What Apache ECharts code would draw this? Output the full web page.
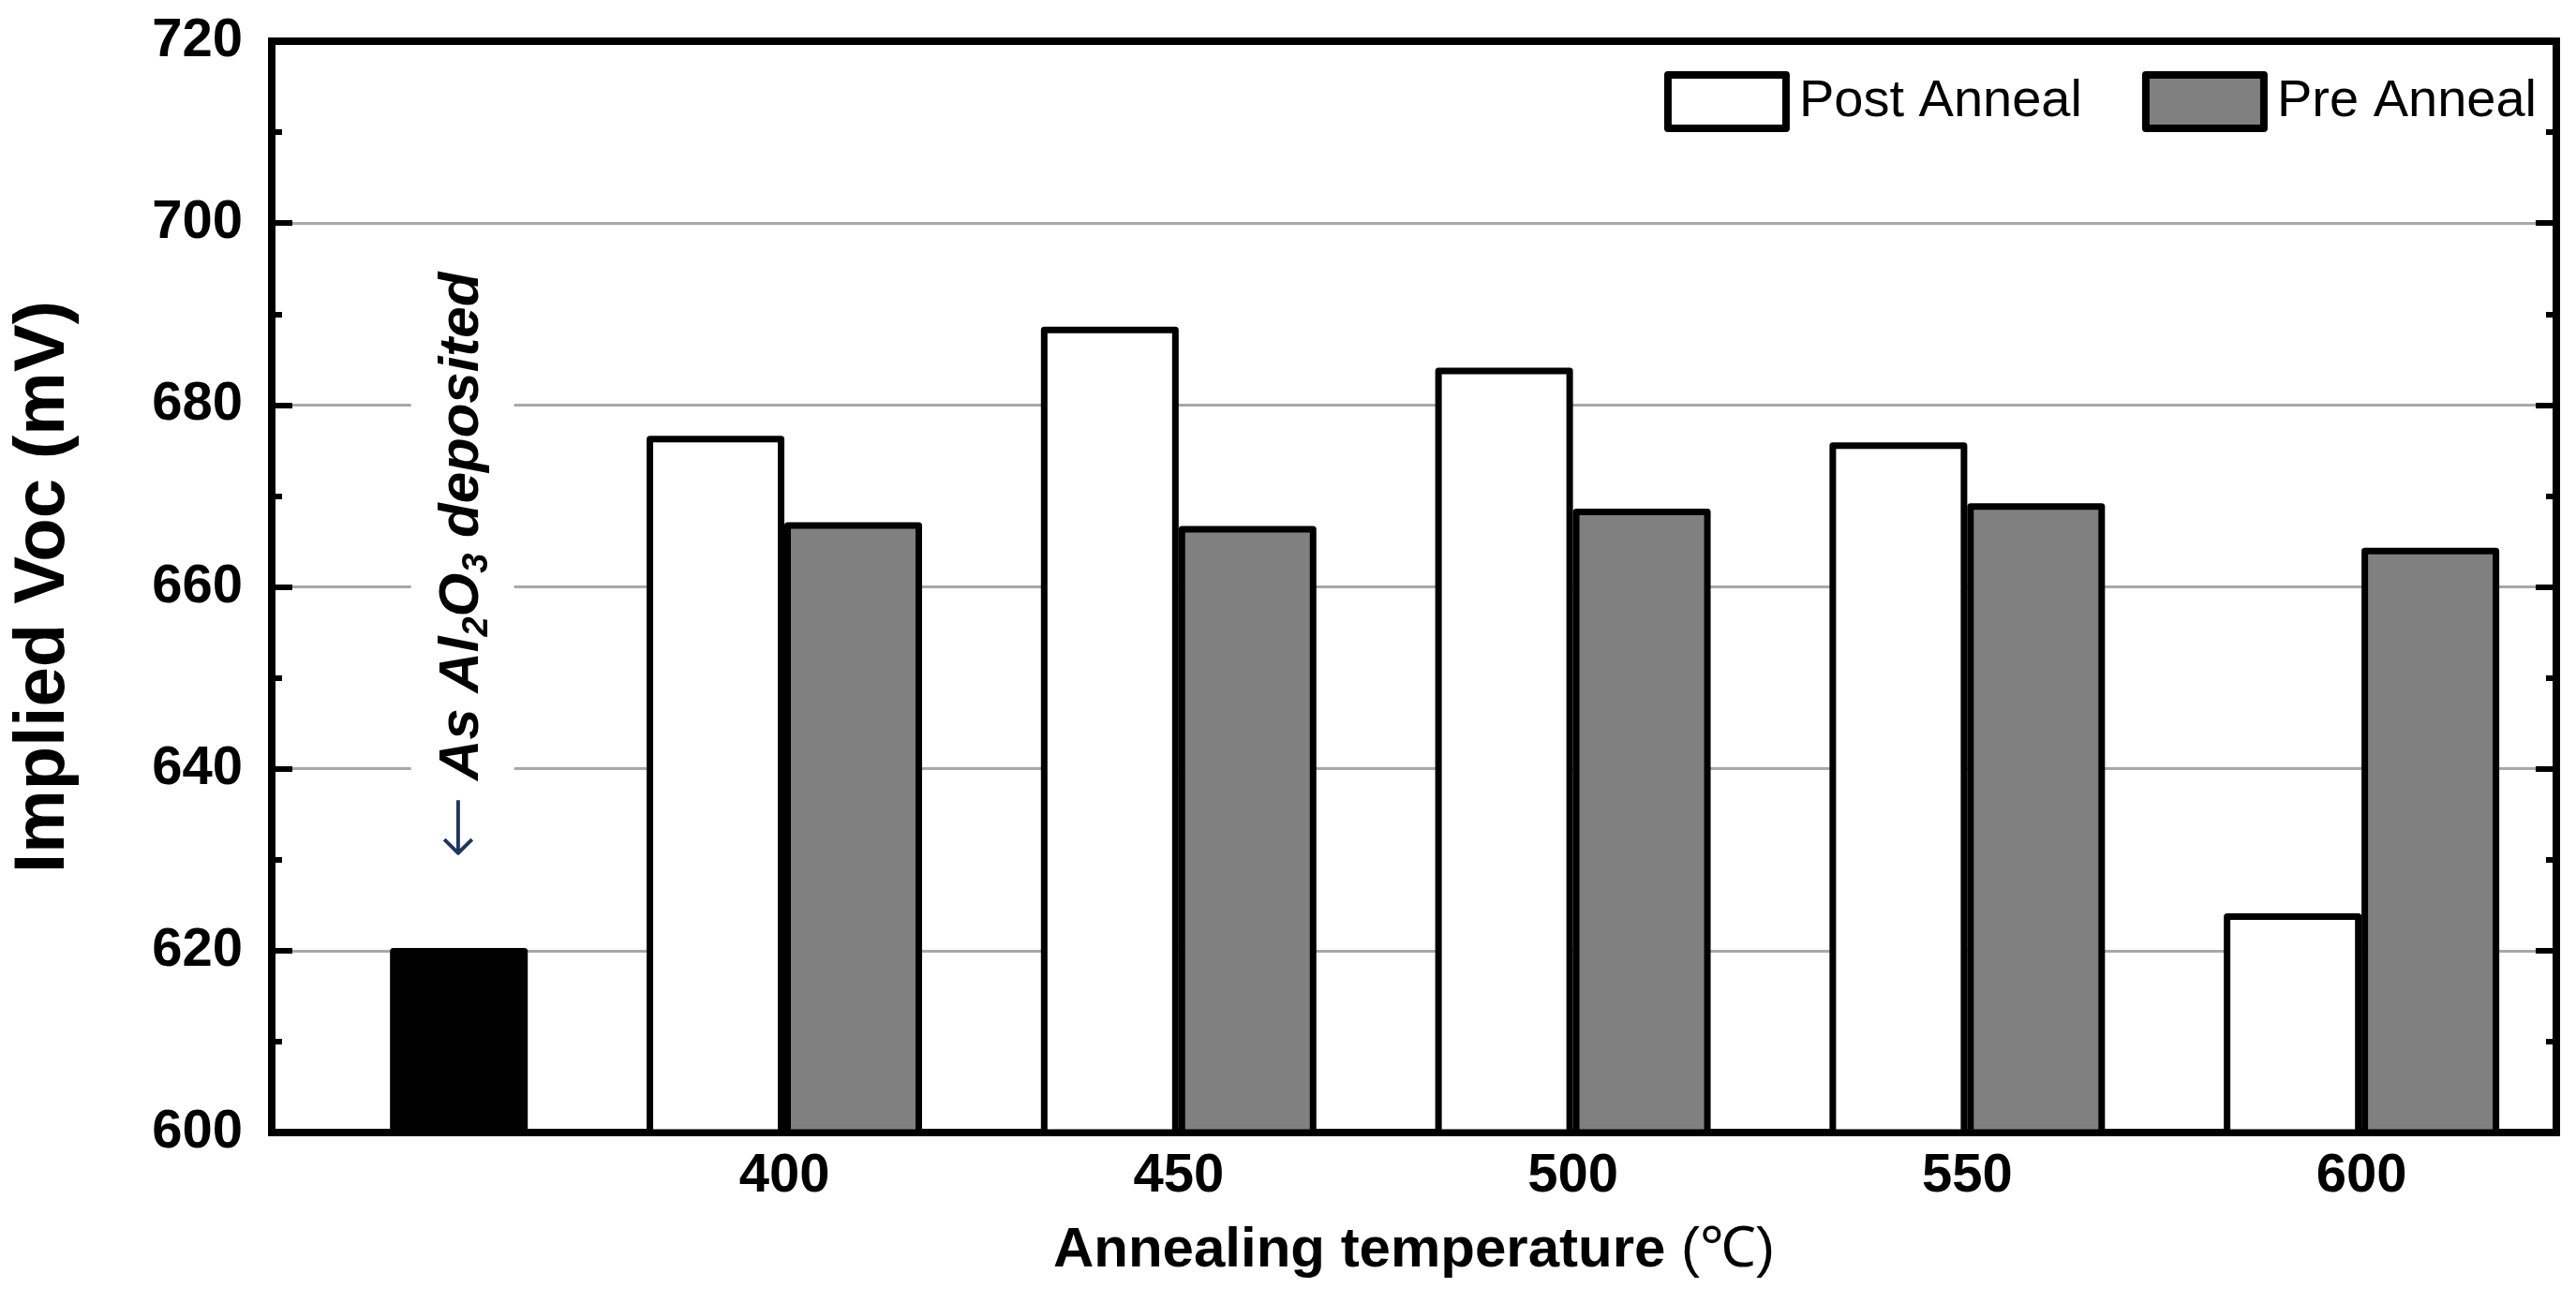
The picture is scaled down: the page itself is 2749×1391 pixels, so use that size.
<!DOCTYPE html>
<html>
<head>
<meta charset="utf-8">
<script src="https://cdn.jsdelivr.net/npm/echarts@6/dist/echarts.min.js"></script>
<style>
html,body{margin:0;padding:0;background:#fff;}
#c{width:2749px;height:1391px;}
</style>
</head>
<body>
<div id="c"></div>
<script>
// ---- data ----
const temps = [400, 450, 500, 550, 600];              // annealing temperature (°C)
const postAnneal = [676.6, 688.6, 684.1, 675.9, 624.1]; // implied Voc, mV
const preAnneal  = [667.1, 666.7, 668.6, 669.2, 664.3]; // implied Voc, mV
const asDepositedSlot = 350;                           // slot left of 400 °C group
const asDeposited = [620.3];                           // as-deposited Al2O3, mV
const yMin = 600, yMax = 720, yStep = 20;
const xMin = 335, xMax = 624.7;

// ---- style ----
const FONT = '"Liberation Sans", Arial, Helvetica, sans-serif';
const barHalf = 8.73;      // half bar width in x units (side-by-side offset)
const barPx = 147;
const borderW = 7;
const annotationAt = 629.7; // y value of arrow tip

const chart = echarts.init(document.getElementById('c'), null, {renderer: 'canvas'});

const tickStyle = {color: '#000', width: 6};
const option = {
  animation: false,
  backgroundColor: '#fff',
  grid: {
    left: 290, right: 21, top: 44, bottom: 182,
    show: true, borderColor: '#000', borderWidth: 8,
    containLabel: false, outerBoundsMode: 'none'
  },
  legend: {
    data: ['Post Anneal', 'Pre Anneal'],
    right: 42, top: 76, padding: 0,
    itemWidth: 126, itemHeight: 57, itemGap: 64,
    icon: 'rect',
    selectedMode: false,
    itemStyle: {borderColor: '#000', borderWidth: 8, borderJoin: 'round'},
    textStyle: {fontSize: 56, color: '#000', fontFamily: FONT, padding: [0, 0, 0, 9]}
  },
  xAxis: {
    type: 'value', min: xMin, max: xMax,
    axisLine: {show: false},
    axisTick: {show: false},
    splitLine: {show: false},
    axisLabel: {
      customValues: temps,
      fontSize: 58, fontWeight: 'bold', color: '#000', fontFamily: FONT, margin: 18
    },
    name: 'Annealing temperature {n|(\u2103)}',
    nameLocation: 'middle', nameGap: 96,
    nameTextStyle: {
      fontSize: 60, fontWeight: 'bold', color: '#000', fontFamily: FONT,
      rich: {n: {fontSize: 60, fontWeight: 'normal', color: '#000', fontFamily: FONT}}
    }
  },
  yAxis: [
    {
      type: 'value', min: yMin, max: yMax, interval: yStep, position: 'left',
      axisLine: {show: false},
      axisTick: {show: true, inside: true, length: 22, lineStyle: tickStyle},
      minorTick: {show: true, splitNumber: 2, length: 11, lineStyle: tickStyle},
      splitLine: {show: true, showMinLine: false, showMaxLine: false,
                  lineStyle: {color: '#a8a8a8', width: 3}},
      axisLabel: {fontSize: 58, fontWeight: 'bold', color: '#000', fontFamily: FONT, margin: 31},
      name: 'Implied Voc (mV)', nameLocation: 'middle', nameGap: 205,
      nameTextStyle: {fontSize: 76, fontWeight: 'bold', color: '#000', fontFamily: FONT}
    },
    {
      type: 'value', min: yMin, max: yMax, interval: yStep, position: 'right',
      axisLine: {show: false},
      axisTick: {show: true, inside: true, length: 22, lineStyle: tickStyle},
      minorTick: {show: true, splitNumber: 2, length: 11, lineStyle: tickStyle},
      splitLine: {show: false},
      axisLabel: {show: false}
    }
  ],
  series: [
    {
      name: 'Post Anneal', type: 'bar', yAxisIndex: 0,
      barWidth: barPx, barGap: '-100%',
      data: temps.map((t, i) => [t - barHalf, postAnneal[i]]),
      itemStyle: {color: '#ffffff', borderColor: '#000', borderWidth: borderW, borderJoin: 'round'},
      emphasis: {disabled: true}
    },
    {
      name: 'Pre Anneal', type: 'bar', yAxisIndex: 0,
      barWidth: barPx, barGap: '-100%',
      data: temps.map((t, i) => [t + barHalf, preAnneal[i]]),
      itemStyle: {color: '#808080', borderColor: '#000', borderWidth: borderW, borderJoin: 'round'},
      emphasis: {disabled: true}
    },
    {
      name: 'As deposited', type: 'bar', yAxisIndex: 0,
      barWidth: barPx, barGap: '-100%',
      data: asDeposited.map(v => [asDepositedSlot + barHalf, v]),
      itemStyle: {color: '#000', borderColor: '#000', borderWidth: borderW, borderJoin: 'round'},
      emphasis: {disabled: true}
    }
  ]
};
chart.setOption(option);

// annotation (vertical text above the as-deposited bar)
const p = chart.convertToPixel({gridIndex: 0}, [asDepositedSlot + barHalf, annotationAt]);
const main = {fontSize: 60, fontWeight: 'bold', fontStyle: 'italic', fontFamily: FONT,
              fill: '#000', color: '#000', lineHeight: 70, verticalAlign: 'middle'};
chart.setOption({
  graphic: [{
    type: 'text',
    x: p[0] + 4, y: p[1],
    rotation: Math.PI / 2,
    z: 10,
    style: {
      text: '{arr|\u2190}{t| As Al}{sub|2}{t|O}{sub|3}{t| deposited}',
      rich: {
        t: main,
        sub: Object.assign({}, main, {fontSize: 38, lineHeight: 38, verticalAlign: 'bottom'}),
        arr: {fontSize: 80, fontWeight: 200, fontFamily: '"DejaVu Sans", sans-serif',
              fill: '#1e3560', color: '#1e3560', lineHeight: 70, verticalAlign: 'middle'}
      },
      align: 'left', verticalAlign: 'middle',
      backgroundColor: '#fff', padding: [20, 4]
    }
  }]
});
</script>
</body>
</html>
